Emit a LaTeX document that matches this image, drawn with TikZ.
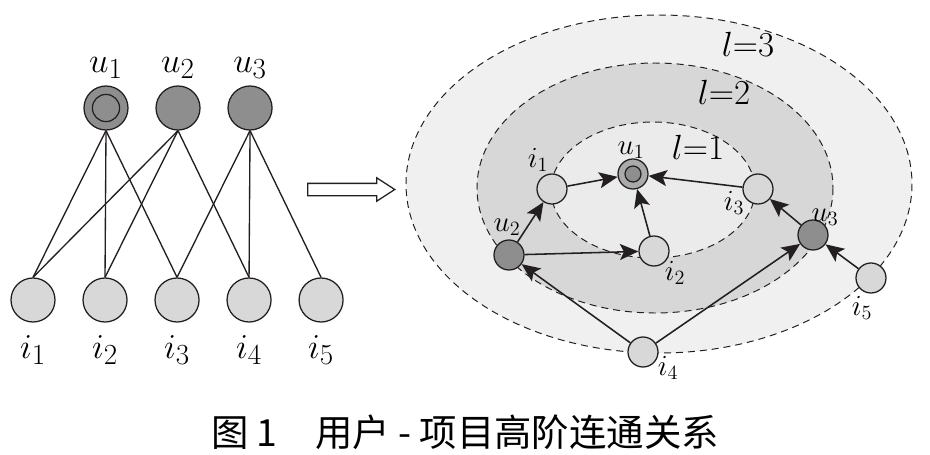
\documentclass[tikz,border=0pt]{standalone}
\usepackage{fontspec}
\newfontfamily\cjkfont{Noto Sans CJK SC}
\usetikzlibrary{positioning,arrows.meta,shapes.arrows}
\definecolor{ink}{HTML}{231F20}
\definecolor{usergray}{HTML}{8E8E8E}
\definecolor{itemgray}{HTML}{D8D8D8}
\definecolor{outergray}{HTML}{F0F0F0}
\definecolor{midgray}{HTML}{D7D7D7}
\definecolor{innergray}{HTML}{EBEBEB}
\tikzstyle{user} = [draw=ink, circle, fill=usergray, minimum size=1.1cm, inner sep=0pt, line width=0.9pt]
\tikzstyle{item} = [draw=ink, circle, fill=itemgray, minimum size=1.1cm, inner sep=0pt, line width=0.9pt]
\tikzstyle{suser} = [user, minimum size=0.75cm]
\tikzstyle{sitem} = [item, minimum size=0.75cm]
\tikzstyle{lbl} = [inner sep=0pt, font=\Huge]
\tikzstyle{slbl} = [inner sep=0pt, font=\huge]
\tikzstyle{ring} = [draw=ink, line width=0.7pt, dash pattern=on 5pt off 3.5pt]
\tikzstyle{link} = [draw=ink, line width=0.95pt]

\begin{document}
\begin{tikzpicture}[x=0.025cm, y=-0.025cm, node distance=1.8cm, >={Stealth[length=0.46cm, width=0.4cm, inset=0.1cm]}]
\useasboundingbox (0,0) rectangle (930,455);

% bipartite graph
\node [user] (u1) at (106,108) {};
\node [draw=ink, circle, minimum size=0.68cm, line width=0.9pt] (u1in) at (u1) {};
\node [user, right of=u1] (u2) {};
\node [user, right of=u2] (u3) {};

\node [item] (i1) at (33,300) {};
\node [item, right of=i1] (i2) {};
\node [item, right of=i2] (i3) {};
\node [item, right of=i3] (i4) {};
\node [item, right of=i4] (i5) {};

\node [lbl, above of=u1, node distance=1cm] (lu1) {$u_1$};
\node [lbl, above of=u2, node distance=1cm] (lu2) {$u_2$};
\node [lbl, above of=u3, node distance=1cm] (lu3) {$u_3$};
\node [lbl, below of=i1, node distance=1.25cm] (li1) {$i_1$};
\node [lbl, below of=i2, node distance=1.25cm] (li2) {$i_2$};
\node [lbl, below of=i3, node distance=1.25cm] (li3) {$i_3$};
\node [lbl, below of=i4, node distance=1.25cm] (li4) {$i_4$};
\node [lbl, below of=i5, node distance=1.25cm] (li5) {$i_5$};

\draw [link] (u1.south) -- (i1.north);
\draw [link] (u1.south) -- (i2.north);
\draw [link] (u1.south) -- (i3.north);
\draw [link] (u2.south) -- (i1.north);
\draw [link] (u2.south) -- (i2.north);
\draw [link] (u2.south) -- (i4.north);
\draw [link] (u3.south) -- (i3.north);
\draw [link] (u3.south) -- (i4.north);
\draw [link] (u3.south) -- (i5.north);

% hollow arrow
\node [draw=ink, single arrow, line width=0.9pt, inner xsep=0pt, inner ysep=0.1375cm,
       minimum height=2.175cm, single arrow head extend=0.1375cm, single arrow tip angle=66] (trans) at (346.5,189.5) {};

% high-order connectivity
\draw [ring, fill=outergray] (659,184) ellipse [x radius=253, y radius=169];
\draw [ring, fill=midgray] (655,188) ellipse [x radius=178, y radius=125];
\draw [ring, fill=innergray] (653,190) ellipse [x radius=102, y radius=68];

\node [lbl] (l3) at (748,44) {$l{=}3$};
\node [lbl] (l2) at (724,92) {$l{=}2$};
\node [lbl] (l1) at (698,147) {$l{=}1$};

\node [suser, fill=usergray!75] (ru1) at (633,174) {};
\node [draw=ink, circle, fill=usergray, minimum size=0.4cm, line width=0.9pt] (ru1in) at (ru1) {};
\node [sitem] (ri1) at (552,189) {};
\node [sitem] (ri3) at (758,189) {};
\node [sitem] (ri2) at (654,251) {};
\node [suser] (ru2) at (509,255) {};
\node [suser] (ru3) at (813,235) {};
\node [sitem] (ri5) at (871,278) {};
\node [sitem] (ri4) at (643,352) {};

\node [slbl] (lru1) at (631,150) {$u_1$};
\node [slbl] (lri1) at (538,160) {$i_1$};
\node [slbl] (lri3) at (734,203) {$i_3$};
\node [slbl] (lri2) at (675,273) {$i_2$};
\node [slbl] (lru2) at (507,227) {$u_2$};
\node [slbl] (lru3) at (825,217) {$u_3$};
\node [slbl] (lri5) at (862,308) {$i_5$};
\node [slbl] (lri4) at (668,368) {$i_4$};

\draw [link, line width=1.1pt, ->] (ri1) -- (ru1);
\draw [link, line width=1.1pt, ->] (ri3) -- (ru1);
\draw [link, line width=1.1pt, ->] (ri2) -- (ru1);
\draw [link, line width=1.1pt, ->] (ru2) -- (ri1);
\draw [link, line width=1.1pt, ->] (ru2) -- (ri2);
\draw [link, line width=1.1pt, ->] (ru3) -- (ri3);
\draw [link, line width=1.1pt, ->] (ri4) -- (ru2);
\draw [link, line width=1.1pt, ->] (ri4) -- (ru3);
\draw [link, line width=1.1pt, ->] (ri5) -- (ru3);

\node [font=\cjkfont\fontsize{26.6}{30}\selectfont] (caption) at (465,432) {图 1\quad 用户 - 项目高阶连通关系};
\end{tikzpicture}
\end{document}
